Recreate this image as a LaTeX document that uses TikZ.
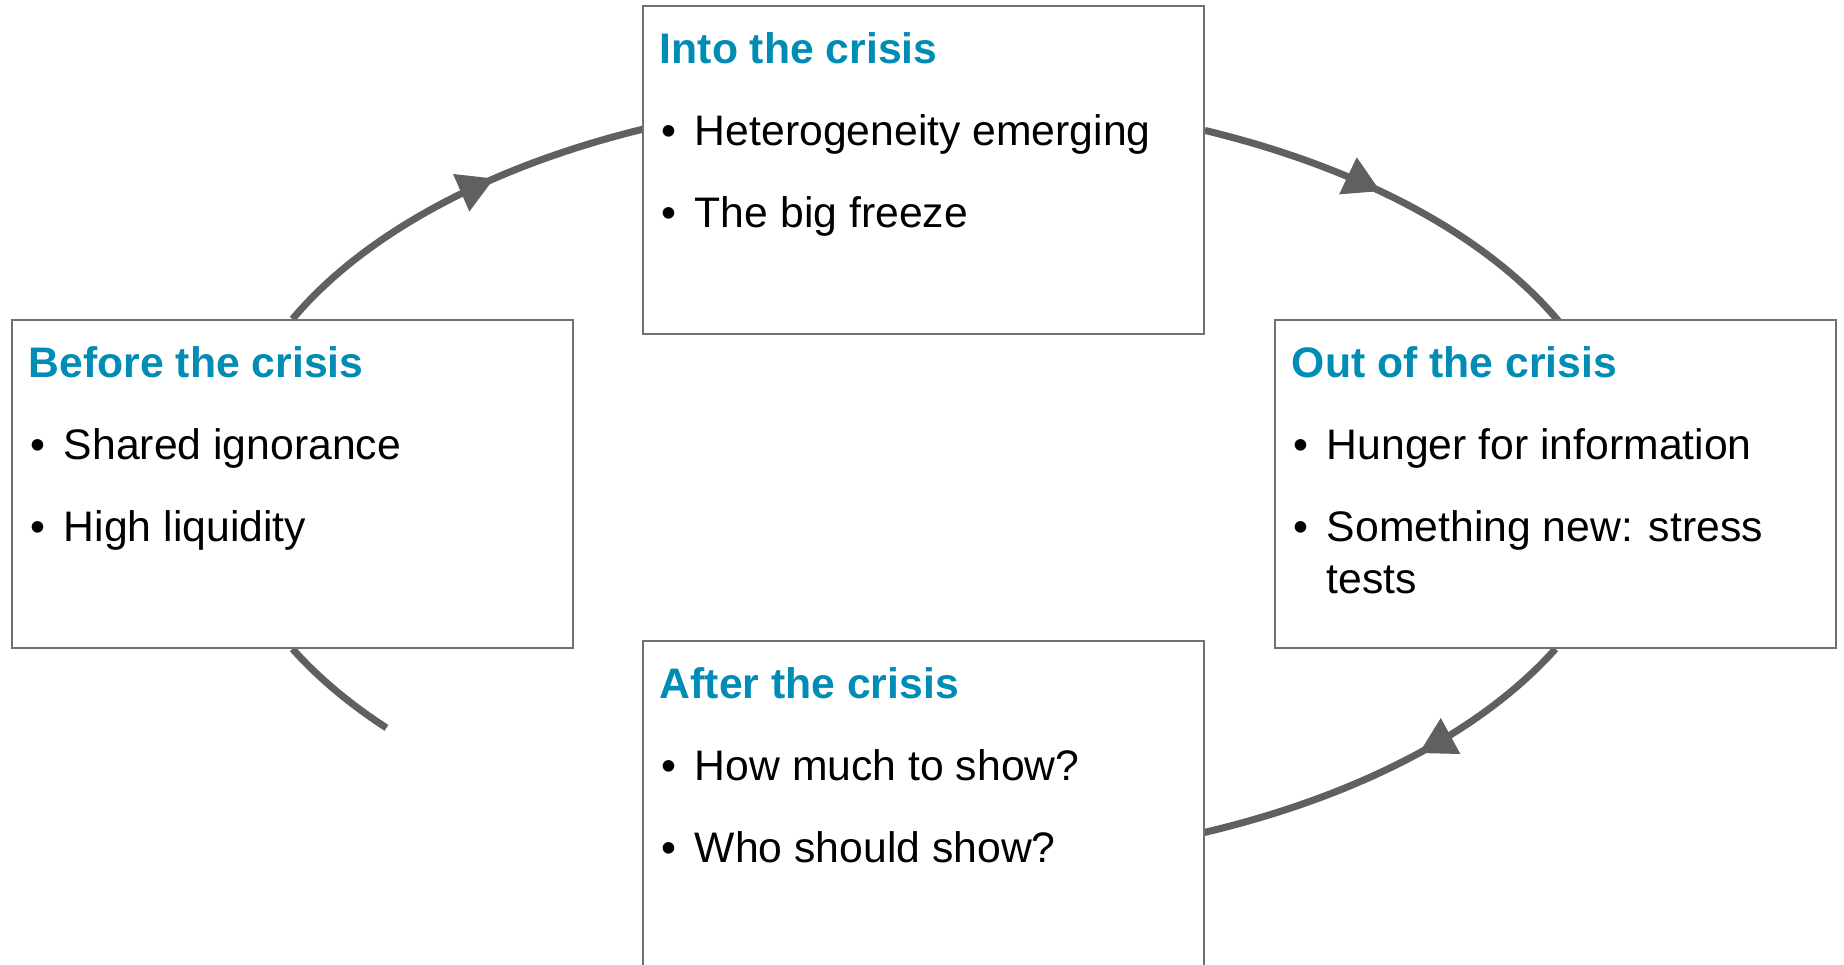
\documentclass[tikz,border=0pt]{standalone}
\usepackage{fontspec}
\setmainfont{Liberation Sans}
\usetikzlibrary{arrows.meta,decorations.markings,backgrounds}

\definecolor{crisisblue}{RGB}{0,140,180}
\definecolor{arcgray}{RGB}{96,96,96}
\definecolor{boxgray}{RGB}{112,112,112}

\newcommand{\itm}{\makebox[0.336cm][l]{\textbullet}}

\tikzset{
    phase/.style={draw=boxgray, line width=0.5pt, fill=white,
        minimum width=5.61cm, minimum height=3.28cm, inner sep=0pt},
    phasehead/.style={anchor=base west, inner sep=0pt, text=crisisblue,
        font=\fontsize{12.15pt}{14.7pt}\selectfont\bfseries},
    phaselist/.style={anchor=base west, inner sep=0pt, align=left,
        font=\fontsize{12.15pt}{14.7pt}\selectfont},
    ringarc/.style={draw=arcgray, line width=2pt},
    tipat/.style={postaction={decorate}, decoration={markings,
        mark=at position #1 with {\arrow{Triangle[length=0.36cm,width=0.39cm]}}}}
}

\begin{document}
\begin{tikzpicture}
            \useasboundingbox (0, 0) rectangle (18.44, 9.65);

            \node[phase] (into) at (9.235, 7.95) {};
            \node[phase] (before) at (2.925, 4.81) {};
            \node[phase] (outof) at (15.555, 4.81) {};
            \node[phase] (after) at (9.235, 1.60) {};

            \begin{scope}[on background layer]
                \draw[ringarc, tipat=0.58]
                    (before.north) arc[start angle=155.3, end angle=112, x radius=6.98, y radius=3.83];
                \draw[ringarc, tipat=0.45]
                    (into.8.3) arc[start angle=66.3, end angle=24, x radius=6.98, y radius=3.83];
                \draw[ringarc, tipat=0.42]
                    (outof.south) arc[start angle=-26.05, end angle=-67.5, x radius=6.98, y radius=3.83];
                \draw[ringarc]
                    (before.south) arc[start angle=206.05, end angle=220.2, x radius=6.98, y radius=3.83];
            \end{scope}

            \node[phasehead] (h1) at ([xshift=0.17cm, yshift=-0.583cm]into.north west) {Into the crisis};
            \node[phasehead] (h2) at ([xshift=0.17cm, yshift=-0.583cm]outof.north west) {Out of the crisis};
            \node[phasehead] (h3) at ([xshift=0.17cm, yshift=-0.583cm]after.north west) {After the crisis};
            \node[phasehead] (h4) at ([xshift=0.17cm, yshift=-0.583cm]before.north west) {Before the crisis};

            \node[phaselist] (l1) at ([xshift=0.185cm, yshift=-2.223cm]into.north west)
                {\itm Heterogeneity emerging\\[8.6pt]\itm The big freeze};
            \node[phaselist] (l2) at ([xshift=0.185cm, yshift=-2.742cm]outof.north west)
                {\itm Hunger for information\\[8.6pt]\itm Something new: stress\\\hspace*{0.336cm}tests};
            \node[phaselist] (l3) at ([xshift=0.185cm, yshift=-2.223cm]after.north west)
                {\itm How much to show?\\[8.6pt]\itm Who should show?};
            \node[phaselist] (l4) at ([xshift=0.185cm, yshift=-2.223cm]before.north west)
                {\itm Shared ignorance\\[8.6pt]\itm High liquidity};
\end{tikzpicture}
\end{document}
